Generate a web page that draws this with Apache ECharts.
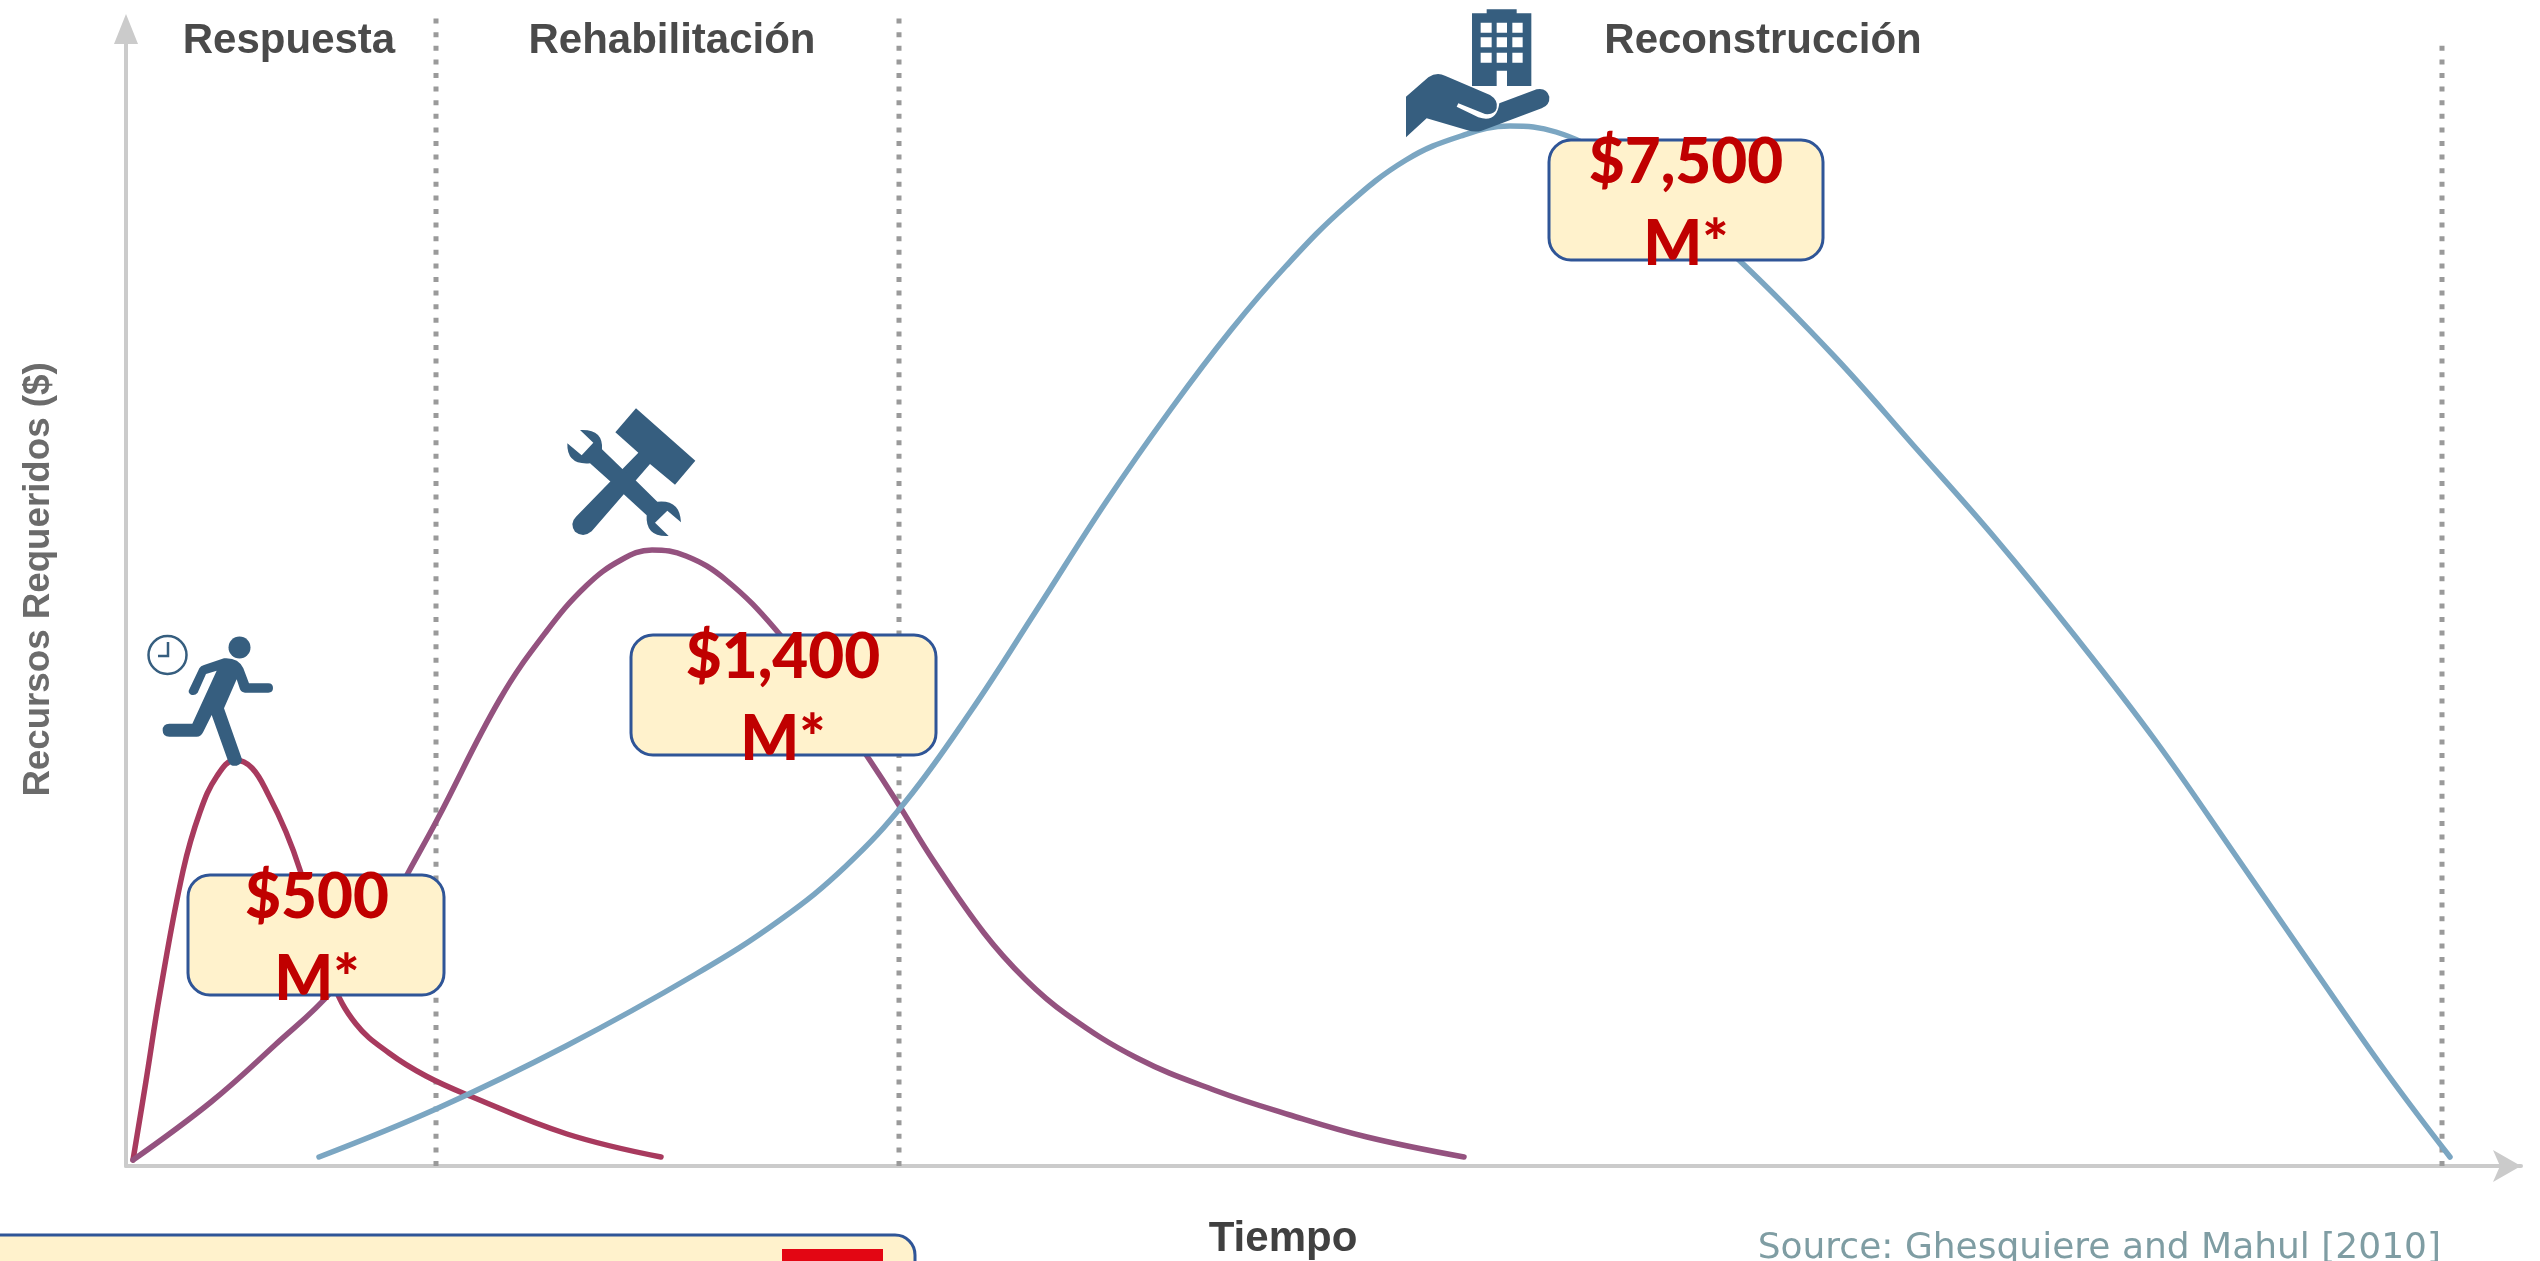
<!DOCTYPE html>
<html>
<head>
<meta charset="utf-8">
<style>html,body{margin:0;padding:0;background:#fff;overflow:hidden}#c{width:2540px;height:1261px}</style>
<script src="https://cdn.jsdelivr.net/npm/echarts@6/dist/echarts.min.js"></script>
</head>
<body>
<div id="c"></div>
<script>
const respuesta = [[0.7,0.6],[2,8.5],[3.4,17.3],[5.7,29.5],[7.4,35.4],[9.1,39],[10.9,40.6],[12.6,39.8],[14.3,37],[16,33.4],[17.4,29.6],[19,24],[20.6,18.5],[23,14.2],[26.3,11.3],[30,9],[34.4,7],[44.1,3.2],[53.5,0.9]];
const rehabilitacion = [[0.7,0.6],[8.5,6.4],[14.9,12.1],[20.6,17.5],[25.5,24.3],[28.2,29.3],[31.1,34.6],[37.4,46.7],[42,53.4],[46,58],[49.5,60.6],[52.6,61.6],[56,61],[60,58.6],[65,53.6],[70,47],[74.1,41],[77.1,36.4],[80.7,30.6],[85.8,23.3],[89.9,18.7],[94,15.2],[101.1,10.8],[108.8,7.6],[116.4,5.1],[124.1,2.9],[133.8,0.9]];
const reconstruccion = [[19.3,0.9],[31,5.7],[44,12],[57,19.2],[65.4,24.6],[72,30],[78,36.5],[84.5,45.5],[91,55.5],[98,66.4],[104.5,75.7],[110.5,83.6],[116,90],[122,96],[128,100.6],[133.5,103],[138.4,104],[143,103.4],[148,101],[155,96],[161.4,90.5],[170.8,81],[178.8,72],[186.9,62.8],[194.9,53],[202.9,42.6],[211,31],[219,19.4],[226,9.4],[232.4,0.9]];
const phaseBoundaries = [[31,115.1],[77.3,115.1],[231.6,112.8]];
const phaseNames = ['Respuesta','Rehabilitación','Reconstrucción'];
const costLabels = ['$500\nM*','$1,400\nM*','$7,500\nM*'];
const yAxisTitle = 'Recursos Requeridos ($)';
const xAxisTitle = 'Tiempo';
const sourceNote = 'Source: Ghesquiere and Mahul [2010]';

const ICON = '#365E7F', SANS = '"Liberation Sans", Arial, sans-serif';
const curve = (name, data, color) => ({
  name, type:'line', data, smooth:0.4, showSymbol:false, symbol:'none', z:3, silent:true,
  lineStyle:{color, width:5.5, cap:'round', join:'round'}
});
const boundary = (p, i) => ({
  name:'Límite '+(i+1), type:'line', data:[[p[0],0],p], showSymbol:false, symbol:'none', z:1, silent:true, clip:false,
  lineStyle:{color:'#9a9a9a', width:5, type:[5,8.6], cap:'butt'}
});
const phaseText = (t, x, y) => ({type:'text', z:50, style:{text:t, x, y, textAlign:'center', textVerticalAlign:'middle', fill:'#4a4a4a', font:'bold 42px '+SANS}});
const box = (x,y,w,h) => ({type:'rect', z:60, shape:{x,y,width:w,height:h,r:22}, style:{fill:'#FFF2CC', stroke:'#2F5597', lineWidth:3}});
const cost = (t, x, y) => ({type:'text', z:61, style:{text:t, x, y, textAlign:'center', textVerticalAlign:'top', fill:'#C00000', font:'900 62px Lato, sans-serif', lineHeight:82}});
const icon = (name, ox, oy) => ({type:name, z:70, x:ox, y:oy, scaleX:1/3, scaleY:1/3, style:{fill:ICON}});
const pathIcon = (name, d) => echarts.graphic.registerShape(name, echarts.graphic.extendPath(d, {}));

pathIcon('runnerIcon', 'M268 268L298 205Q302 197 312 195L372 175Q415 172 430 205L447 250L505 250Q519 250 519 264Q519 278 505 278L435 278Q425 278 420 268L410 238L372 325L425 475Q428 492 410 497Q392 500 385 485L335 345L310 395Q303 410 290 410L208 410Q188 410 188 391Q188 371 208 371L277 371L350 212L318 222L293 278Q285 288 273 284Q262 278 268 268Z');
pathIcon('hammerIcon', 'M288 55L466 212L405 284L330 222L155 424Q130 445 105 425Q88 400 108 380L295 188L226 127Z');
pathIcon('wrenchIcon', 'M120 120Q190 116 186 178L248 238L288 272L352 335Q420 328 423 397L382 362L345 398L386 438Q316 442 320 376L253 314L212 275L150 220Q80 226 82 160L125 196L160 158Z');
pathIcon('buildingIcon', 'M410 40L410 28L500 28L500 40L544 40L544 258L471 258L471 212L440 212L440 258L366 258L366 40Z'
 + 'M392 68L392 98L425 98L425 68ZM440 68L440 98L471 98L471 68ZM487 68L487 98L518 98L518 68Z'
 + 'M392 112L392 142L425 142L425 112ZM440 112L440 142L471 142L471 112ZM487 112L487 142L518 142L518 112Z'
 + 'M392 158L392 188L425 188L425 158ZM440 158L440 188L471 188L471 158ZM487 158L487 188L518 188L518 158Z');
pathIcon('handIcon', 'M168 290L235 232Q260 215 285 227L420 285Q445 300 440 325Q435 345 405 342L325 310L320 320L385 352Q440 370 448 310L560 268Q590 262 598 290Q600 315 575 325L395 392Q375 398 350 390L230 355L168 412Z');

const chart = echarts.init(document.getElementById('c'), null, {renderer:'canvas'});
chart.setOption({
  animation:false,
  backgroundColor:'#ffffff',
  grid:{left:126, top:29, width:2395, height:1137, containLabel:false, outerBoundsMode:'none'},
  xAxis:{type:'value', min:0, max:239.5, splitLine:{show:false}, axisTick:{show:false}, axisLabel:{show:false},
    axisLine:{show:true, symbol:['none','arrow'], symbolSize:[24,28], lineStyle:{color:'#cbcbcb', width:4}},
    name:xAxisTitle, nameLocation:'middle', nameGap:52,
    nameTextStyle:{color:'#404040', fontFamily:SANS, fontWeight:'bold', fontSize:42, padding:[0,81,0,0]}},
  yAxis:{type:'value', min:0, max:113.7, splitLine:{show:false}, axisTick:{show:false}, axisLabel:{show:false},
    axisLine:{show:true, symbol:['none','triangle'], symbolSize:[24,30], lineStyle:{color:'#cbcbcb', width:4}},
    name:yAxisTitle, nameLocation:'middle', nameGap:69,
    nameTextStyle:{color:'#6b6b6b', fontFamily:SANS, fontWeight:'bold', fontSize:36.7, padding:[0,0,0,36]}},
  series:[
    ...phaseBoundaries.map(boundary),
    curve('Respuesta', respuesta, '#A83A5E'),
    curve('Rehabilitación', rehabilitacion, '#94527F'),
    curve('Reconstrucción', reconstruccion, '#7BA6C2')
  ],
  graphic:{elements:[
    phaseText(phaseNames[0], 289, 41),
    phaseText(phaseNames[1], 672, 41),
    phaseText(phaseNames[2], 1763, 41),
    box(188,875,256,120), box(631,635,305,120), box(1549,140,274,120),
    cost(costLabels[0], 317, 857), cost(costLabels[1], 783, 617), cost(costLabels[2], 1686, 122),
    icon('runnerIcon',100,600),
    {type:'circle', z:70, shape:{cx:239.5,cy:647.5,r:11}, style:{fill:ICON}},
    {type:'circle', z:70, shape:{cx:167.5,cy:655,r:19}, style:{fill:'none', stroke:ICON, lineWidth:2.5}},
    {type:'polyline', z:70, shape:{points:[[168,642],[168,656],[158,656]]}, style:{fill:'none', stroke:ICON, lineWidth:2.5}},
    icon('hammerIcon',540,390), icon('wrenchIcon',540,390),
    icon('buildingIcon',1350,0), icon('handIcon',1350,0),
    {type:'rect', z:60, shape:{x:-30,y:1235,width:945,height:80,r:20}, style:{fill:'#FFF2CC', stroke:'#2F5597', lineWidth:3}},
    {type:'rect', z:61, shape:{x:782,y:1249,width:101,height:30}, style:{fill:'#E30613'}},
    {type:'text', z:50, style:{text:sourceNote, x:2441, y:1267, textAlign:'right', textVerticalAlign:'bottom', fill:'#7F9DA3', font:'36px "DejaVu Sans", sans-serif'}}
  ]}
});
</script>
</body>
</html>
